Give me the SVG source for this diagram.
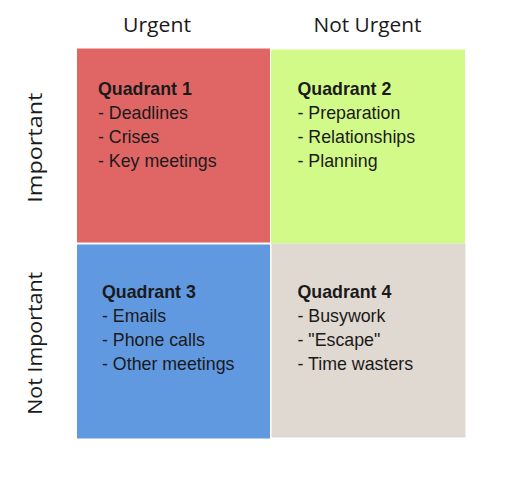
<svg xmlns="http://www.w3.org/2000/svg" width="512" height="489" viewBox="0 0 512 489">
<style>
.hdr{font-family:"Open Sans","Liberation Sans",sans-serif;font-size:20px;fill:#1a1a1a;text-anchor:middle}
.body{font-family:"Liberation Sans",Arial,sans-serif;font-size:17.8px;fill:#1a1a1a}
.title{font-weight:bold}
</style>
<rect width="512" height="489" fill="#ffffff"/>
<g id="headers">
<text class="hdr" x="157" y="32" textLength="68" lengthAdjust="spacingAndGlyphs">Urgent</text>
<text class="hdr" x="367.5" y="32" textLength="108" lengthAdjust="spacingAndGlyphs">Not Urgent</text>
<text class="hdr" transform="translate(42,147.7) rotate(-90)" textLength="110" lengthAdjust="spacingAndGlyphs">Important</text>
<text class="hdr" transform="translate(42,343.3) rotate(-90)" textLength="143" lengthAdjust="spacingAndGlyphs">Not Important</text>
</g>
<g id="q1">
<rect x="77" y="48.5" width="193" height="194" fill="#e06666"/>
<text class="body" x="98" y="95"><tspan class="title">Quadrant 1</tspan><tspan x="98" dy="24">- Deadlines</tspan><tspan x="98" dy="24">- Crises</tspan><tspan x="98" dy="24">- Key meetings</tspan></text>
</g>
<g id="q2">
<rect x="271" y="49.5" width="194" height="194" fill="#d2fa88"/>
<text class="body" x="297.5" y="95"><tspan class="title">Quadrant 2</tspan><tspan x="297.5" dy="24">- Preparation</tspan><tspan x="297.5" dy="24">- Relationships</tspan><tspan x="297.5" dy="24">- Planning</tspan></text>
</g>
<g id="q3">
<rect x="77" y="244.5" width="193" height="194" fill="#6199e0"/>
<text class="body" x="102" y="298"><tspan class="title">Quadrant 3</tspan><tspan x="102" dy="24">- Emails</tspan><tspan x="102" dy="24">- Phone calls</tspan><tspan x="102" dy="24">- Other meetings</tspan></text>
</g>
<g id="q4">
<rect x="271.5" y="243.5" width="194" height="194" fill="#e0d9d1"/>
<text class="body" x="297.5" y="298"><tspan class="title">Quadrant 4</tspan><tspan x="297.5" dy="24">- Busywork</tspan><tspan x="297.5" dy="24">- "Escape"</tspan><tspan x="297.5" dy="24">- Time wasters</tspan></text>
</g>
<g id="connectors"/>
</svg>
